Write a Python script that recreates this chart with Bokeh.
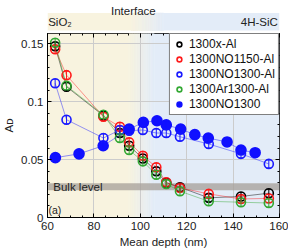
import numpy as np
from bokeh.plotting import figure
from bokeh.models import (Range1d, LinearAxis, FixedTicker, Label, Legend, LegendItem,
                          Whisker, ColumnDataSource, TeeHead)
from bokeh.layouts import column
from bokeh.embed import file_html
from bokeh.resources import INLINE

# ---------------- data ----------------
depth_al = [63.3, 68.2, 84.1, 91.2, 95.2, 101.1, 106.9, 111.2, 117.1, 129.5, 143.4, 155.4]
a_1300x_al = [0.148, 0.113, 0.088, 0.073, 0.062, 0.051, 0.040, 0.030, 0.0261, 0.017, 0.0182, 0.021]
a_no1150_al = [0.1454, 0.123, 0.087, 0.0784, 0.065, 0.0534, 0.0434, 0.0305, 0.0256, 0.0204, 0.016, 0.0165]
a_no1300_al = [0.116, 0.0845, 0.0687, 0.0756, 0.075, 0.0756, 0.073, 0.073, 0.0698, 0.0635, 0.055, 0.0463]
a_ar1300_al = [0.151, 0.1138, 0.0888, 0.0687, 0.0583, 0.0485, 0.037, 0.029, 0.0227, 0.014, 0.0132, 0.0125]

depth_no = [63.4, 73.6, 84.0, 95.2, 101.3, 107.2, 111.2, 117.4, 123.5, 129.3, 137.4, 143.4, 149.5]
a_no1300 = [0.0517, 0.055, 0.062, 0.0764, 0.0822, 0.0836, 0.080, 0.0764, 0.0716, 0.0686, 0.0653, 0.0583, 0.056]

err = 0.0035
bulk_low, bulk_high = 0.0235, 0.0295

x_ticks = [60, 80, 100, 120, 140, 160]
y_ticks = [0, 0.05, 0.1, 0.15]
y_tick_labels = {0: "0", 0.05: "0.05", 0.1: "0.1", 0.15: "0.15"}

FONT = "Liberation Sans"
CREAM = (248, 243, 223)
BLUE = (227, 236, 248)
Y_MAX = 0.159


def hexc(c):
    return "#%02x%02x%02x" % tuple(int(round(v)) for v in c)


def gradient(fig, x0, x1, y0, y1, t0, t1, n=40):
    r1 = fig.quad(left=[x0], right=[t0], bottom=[y0], top=[y1], fill_color=hexc(CREAM), line_color=None)
    edges = np.linspace(t0, t1, n + 1)
    mids = (edges[:-1] + edges[1:]) / 2
    f = (mids - t0) / (t1 - t0)
    cols = [hexc([CREAM[k] * (1 - fi) + BLUE[k] * fi for k in range(3)]) for fi in f]
    r2 = fig.quad(left=edges[:-1], right=edges[1:], bottom=y0, top=y1, fill_color=cols,
                  line_color=cols, line_width=0.6)
    r3 = fig.quad(left=[t1], right=[x1], bottom=[y0], top=[y1], fill_color=hexc(BLUE), line_color=None)
    for r in (r1, r2, r3):
        r.level = "image"


LEFT, RIGHT = 44, 9
W = 288

# ---------------- main figure ----------------
p = figure(width=W, height=219, x_range=Range1d(60, 160), y_range=Range1d(0, Y_MAX),
           toolbar_location=None, output_backend="svg",
           min_border_left=LEFT, min_border_right=RIGHT, min_border_top=2, min_border_bottom=0)
p.background_fill_color = "white"
p.outline_line_color = "black"
p.outline_line_width = 1

gradient(p, 60, 160, 0, Y_MAX, 95, 106)

for ax in (p.xaxis[0], p.yaxis[0]):
    ax.major_label_text_font = FONT
    ax.major_label_text_font_size = "11.5px"
    ax.major_label_text_color = "#222222"
    ax.axis_label_text_font = FONT
    ax.axis_label_text_font_size = "11.5px"
    ax.axis_label_text_font_style = "normal"
    ax.axis_label_text_color = "#222222"
    ax.major_tick_in = 4
    ax.major_tick_out = 0
    ax.minor_tick_in = 2
    ax.minor_tick_out = 0
    ax.axis_line_color = "black"
    ax.major_label_standoff = 4
    ax.axis_label_standoff = 3

p.xaxis.ticker = FixedTicker(ticks=x_ticks, minor_ticks=list(np.arange(60, 161, 5)))
p.yaxis.ticker = FixedTicker(ticks=y_ticks, minor_ticks=list(np.arange(0, Y_MAX, 0.01)))
p.yaxis.major_label_overrides = y_tick_labels
p.xaxis.axis_label = "Mean depth (nm)"
p.yaxis.axis_label = "Aᴅ"

ax_r = LinearAxis(ticker=FixedTicker(ticks=y_ticks, minor_ticks=list(np.arange(0, Y_MAX, 0.01))),
                  major_label_text_color=None, major_tick_in=4, major_tick_out=0,
                  minor_tick_in=2, minor_tick_out=0, axis_line_color=None, major_label_standoff=0)
ax_t = LinearAxis(ticker=FixedTicker(ticks=x_ticks, minor_ticks=list(np.arange(60, 161, 5))),
                  major_label_text_color=None, major_tick_in=4, major_tick_out=0,
                  minor_tick_in=2, minor_tick_out=0, axis_line_color=None, major_label_standoff=0)
ax_r.major_label_text_font_size = "0px"
ax_t.major_label_text_font_size = "0px"
p.add_layout(ax_r, "right")
p.add_layout(ax_t, "above")

p.xgrid.grid_line_color = "#cccccc"
p.ygrid.grid_line_color = "#cccccc"
p.xgrid.grid_line_width = 1
p.ygrid.grid_line_width = 1

# bulk level band
p.quad(left=[60], right=[160], bottom=[bulk_low], top=[bulk_high],
       fill_color="#a59f98", fill_alpha=0.75, line_color=None)
p.add_layout(Label(x=62.5, y=(bulk_low + bulk_high) / 2, text="Bulk level", text_font=FONT,
                   text_font_size="11.5px", text_baseline="middle", text_color="#222222"))
p.add_layout(Label(x=60.4, y=0.0015, text="(a)", text_font=FONT, text_font_size="10.5px",
                   text_baseline="bottom", text_color="#222222"))


def series(x, y, color, fill, lw=0.7, size=9):
    src = ColumnDataSource(dict(x=x, y=y, lo=[v - err for v in y], hi=[v + err for v in y]))
    p.line("x", "y", source=src, line_color=color, line_width=lw, line_alpha=0.65)
    w = Whisker(base="x", lower="lo", upper="hi", source=src, line_color=color, line_width=1,
                upper_head=TeeHead(size=5, line_color=color, line_width=1),
                lower_head=TeeHead(size=5, line_color=color, line_width=1))
    w.level = "glyph"
    p.add_layout(w)
    r = p.scatter("x", "y", source=src, size=size, line_color=color, line_width=1.6,
                  fill_color=("white" if not fill else color), fill_alpha=(0.0 if not fill else 1.0))
    return r


r_black = series(depth_al, a_1300x_al, "black", False)
r_red = series(depth_al, a_no1150_al, "#ff1a1a", False)
r_blue_o = series(depth_al, a_no1300_al, "#1a1aff", False)
r_green = series(depth_al, a_ar1300_al, "#33a833", False)
r_blue_f = series(depth_no, a_no1300, "#1010ff", True, size=10)

legend = Legend(items=[
    LegendItem(label="1300x-Al", renderers=[r_black]),
    LegendItem(label="1300NO1150-Al", renderers=[r_red]),
    LegendItem(label="1300NO1300-Al", renderers=[r_blue_o]),
    LegendItem(label="1300Ar1300-Al", renderers=[r_green]),
    LegendItem(label="1300NO1300", renderers=[r_blue_f]),
], location="top_right")
legend.label_text_font = FONT
legend.label_text_font_size = "12px"
legend.label_text_color = "#111111"
legend.border_line_color = "black"
legend.border_line_width = 1
legend.background_fill_color = "white"
legend.background_fill_alpha = 1
legend.glyph_width = 12
legend.glyph_height = 12
legend.label_height = 12
legend.spacing = 1
legend.padding = 3
legend.margin = 0
legend.label_standoff = 4
p.add_layout(legend)

# ---------------- top band figure ----------------
t = figure(width=W, height=31, x_range=p.x_range, y_range=Range1d(0, 31),
           toolbar_location=None, output_backend="svg",
           min_border_left=LEFT, min_border_right=RIGHT, min_border_top=0, min_border_bottom=0)
t.axis.visible = False
t.grid.visible = False
t.outline_line_color = None
t.background_fill_color = "white"
gradient(t, 60, 160, 1, 18.5, 96, 110)
t.add_layout(Label(x=97, y=20.5, text="Interface", text_font=FONT, text_font_size="11.5px",
                   text_align="center", text_baseline="alphabetic", text_color="#222222"))
t.add_layout(Label(x=60.3, y=9.8, text="SiO₂", text_font=FONT, text_font_size="11.5px",
                   text_align="left", text_baseline="middle", text_color="#222222"))
t.add_layout(Label(x=159.3, y=9.8, text="4H-SiC", text_font=FONT, text_font_size="11.5px",
                   text_align="right", text_baseline="middle", text_color="#222222"))

layout = column(t, p, spacing=0)
open("out.html", "w").write(file_html(layout, INLINE))
